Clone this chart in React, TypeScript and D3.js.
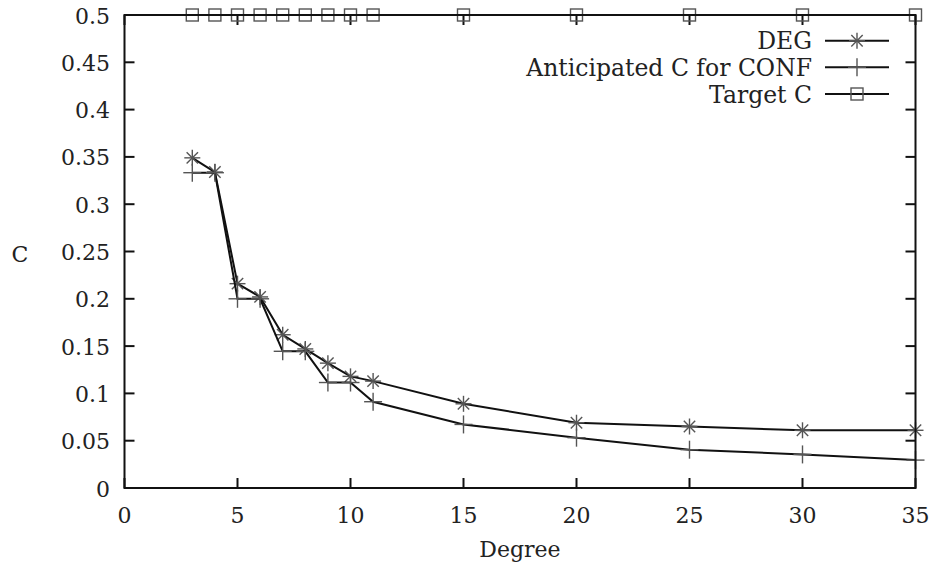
import React from "react";
import * as d3 from "d3";

const degrees = [3, 4, 5, 6, 7, 8, 9, 10, 11, 15, 20, 25, 30, 35];
const degValues = [0.349, 0.334, 0.216, 0.202, 0.162, 0.147, 0.132, 0.118, 0.113, 0.089, 0.069, 0.065, 0.061, 0.061];
const confValues = [0.3333, 0.3333, 0.2, 0.2, 0.1445, 0.1445, 0.1115, 0.1115, 0.0912, 0.0672, 0.0532, 0.0405, 0.0355, 0.0295];
const targetValues = [0.5, 0.5, 0.5, 0.5, 0.5, 0.5, 0.5, 0.5, 0.5, 0.5, 0.5, 0.5, 0.5, 0.5];
const xTicks = [0, 5, 10, 15, 20, 25, 30, 35];
const yTicks = [0, 0.05, 0.1, 0.15, 0.2, 0.25, 0.3, 0.35, 0.4, 0.45, 0.5];
const seriesNames = ["DEG", "Anticipated C for CONF", "Target C"];

const W = 935, H = 567;
const L = 124.5, R = 915.5, T = 15, B = 488;
const font = "'DejaVu Serif', 'Liberation Serif', serif";
const fs = 22;
const mk = "#555";

function Star({ x, y }: { x: number; y: number }) {
  const s = 8, d = 5.7;
  return (
    <g stroke={mk} strokeWidth={1.4}>
      <line x1={x - s} y1={y} x2={x + s} y2={y} />
      <line x1={x} y1={y - s} x2={x} y2={y + s} />
      <line x1={x - d} y1={y - d} x2={x + d} y2={y + d} />
      <line x1={x - d} y1={y + d} x2={x + d} y2={y - d} />
    </g>
  );
}
function Plus({ x, y }: { x: number; y: number }) {
  const s = 9;
  return (
    <g stroke={mk} strokeWidth={1.4}>
      <line x1={x - s} y1={y} x2={x + s} y2={y} />
      <line x1={x} y1={y - s} x2={x} y2={y + s} />
    </g>
  );
}
function Box({ x, y }: { x: number; y: number }) {
  const s = 6;
  return <rect x={x - s} y={y - s} width={2 * s} height={2 * s} fill="none" stroke={mk} strokeWidth={1.4} />;
}

export default function App() {
  const xs = d3.scaleLinear().domain([0, 35]).range([L, R]);
  const ys = d3.scaleLinear().domain([0, 0.5]).range([B, T]);
  const line = d3.line<[number, number]>().x((d) => xs(d[0])).y((d) => ys(d[1]));
  const series = [degValues, confValues, targetValues];
  const markers = [Star, Plus, Box];
  const tl = 10;
  const legY = [40.7, 67.3, 94];
  return (
    <svg width={W} height={H} style={{ position: "absolute", left: 0, top: 0, background: "#fff" }}>
      <g stroke="#111" strokeWidth={2}>
        {xTicks.map((t) => (
          <g key={"xt" + t}>
            <line x1={xs(t)} x2={xs(t)} y1={B} y2={B - tl} />
            <line x1={xs(t)} x2={xs(t)} y1={T} y2={T + tl} />
          </g>
        ))}
        {yTicks.map((t) => (
          <g key={"yt" + t}>
            <line x1={L} x2={L + tl} y1={ys(t)} y2={ys(t)} />
            <line x1={R} x2={R - tl} y1={ys(t)} y2={ys(t)} />
          </g>
        ))}
      </g>
      <g fontFamily={font} fontSize={fs} fill="#222">
        {xTicks.map((t) => (
          <text key={"xl" + t} x={xs(t)} y={523} textAnchor="middle">{t}</text>
        ))}
        {yTicks.map((t) => (
          <text key={"yl" + t} x={110} y={ys(t) + 8.5} textAnchor="end">{String(t)}</text>
        ))}
        <text x={(L + R) / 2} y={557} textAnchor="middle">Degree</text>
        <text x={20} y={261.5} textAnchor="middle">C</text>
      </g>
      {series.map((vals, i) => {
        const pts = degrees.map((d, j) => [d, vals[j]] as [number, number]);
        const M = markers[i];
        return (
          <g key={"s" + i}>
            <path d={line(pts) || ""} fill="none" stroke="#111" strokeWidth={2} />
            {pts.map((p, j) => <M key={j} x={xs(p[0])} y={ys(p[1])} />)}
          </g>
        );
      })}
      <g fontFamily={font} fontSize={23.5} fill="#222">
        {seriesNames.map((n, i) => {
          const M = markers[i];
          return (
            <g key={"lg" + i}>
              <text x={812} y={legY[i] + 8.5} textAnchor="end">{n}</text>
              <line x1={825} x2={889} y1={legY[i]} y2={legY[i]} stroke="#111" strokeWidth={2} />
              <M x={857} y={legY[i]} />
            </g>
          );
        })}
      </g>
      <rect x={L} y={T} width={R - L} height={B - T} fill="none" stroke="#111" strokeWidth={2} />
    </svg>
  );
}
